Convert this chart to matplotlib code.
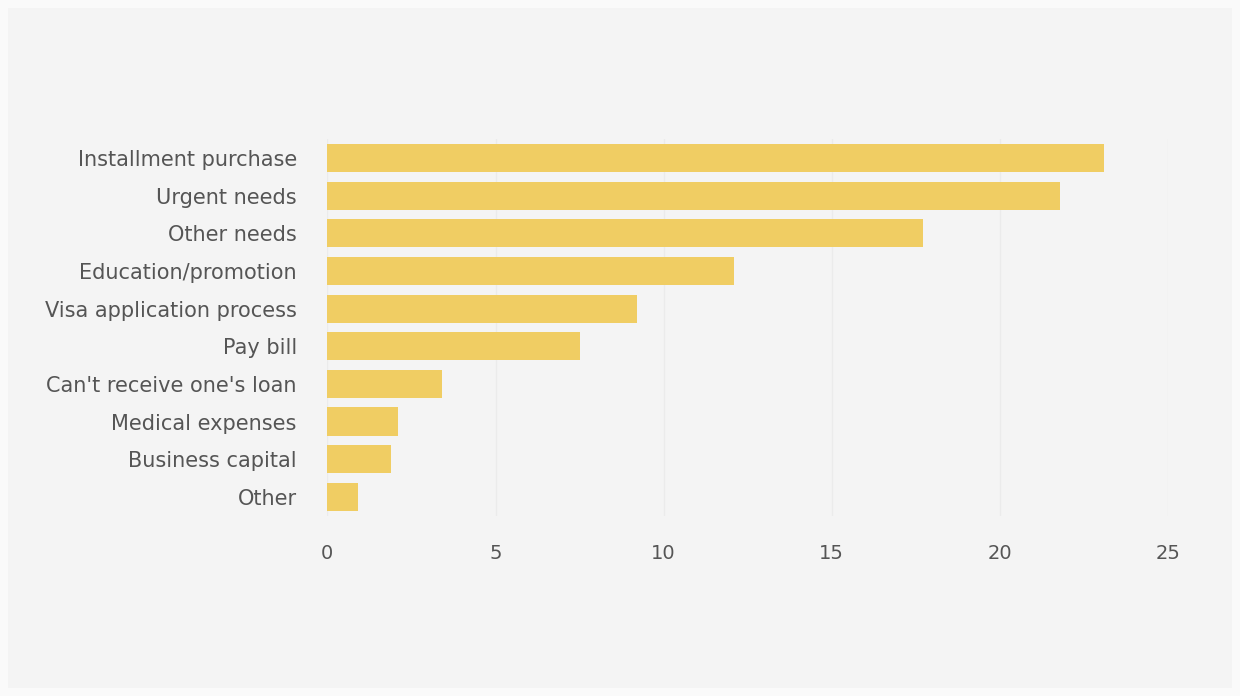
import matplotlib
matplotlib.use("Agg")
import matplotlib.pyplot as plt
from matplotlib.patches import Rectangle

categories = ["Installment purchase", "Urgent needs", "Other needs", "Education/promotion",
              "Visa application process", "Pay bill", "Can't receive one's loan",
              "Medical expenses", "Business capital", "Other"]
values = [23.1, 21.8, 17.7, 12.1, 9.2, 7.5, 3.4, 2.1, 1.9, 0.9]
xticks = [0, 5, 10, 15, 20, 25]

fig = plt.figure(figsize=(12.4, 6.96), dpi=100)
fig.patch.set_facecolor("#fafafa")
fig.patches.append(Rectangle((8 / 1240, 8 / 696), 1 - 16 / 1240, 1 - 16 / 696,
                             transform=fig.transFigure, facecolor="#f4f4f4",
                             edgecolor="none", zorder=-10))
ax = fig.add_axes([0.264, 0.259, 0.678, 0.541])
ax.set_zorder(5)
ax.set_facecolor("#f4f4f4")
y = list(range(len(categories)))
ax.barh(y, values, height=0.75, color="#f0cd63", zorder=3)
ax.set_yticks(y)
ax.set_yticklabels(categories, fontsize=15, color="#555555")
ax.set_ylim(len(categories) - 0.5, -0.5)
ax.set_xlim(0, 25)
ax.set_xticks(xticks)
ax.set_xticklabels([str(t) for t in xticks], fontsize=14, color="#555555")
ax.tick_params(axis="x", length=0, pad=20)
ax.tick_params(axis="y", length=0, pad=22)
ax.grid(axis="x", color="#ebebeb", linewidth=1, zorder=0)
for s in ax.spines.values():
    s.set_visible(False)
fig.savefig("out.png", dpi=100, facecolor=fig.get_facecolor())
